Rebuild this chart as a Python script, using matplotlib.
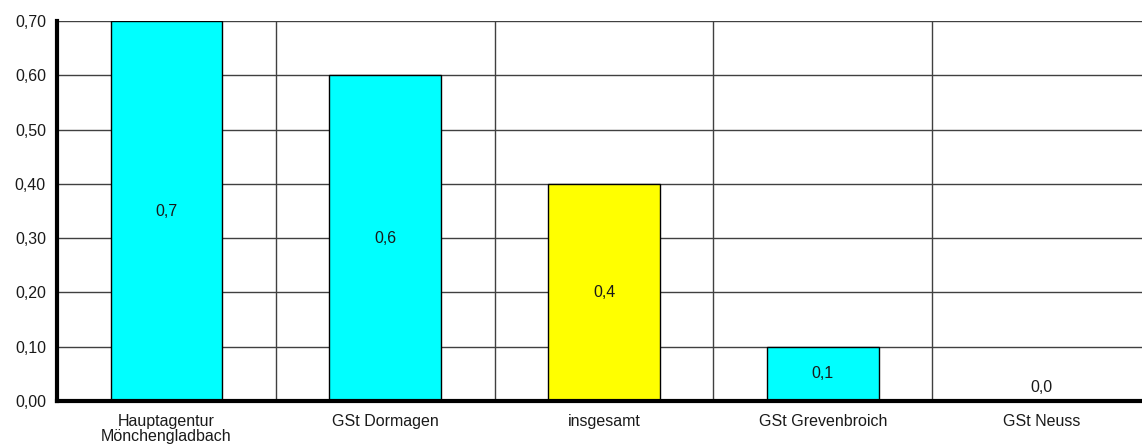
import matplotlib
matplotlib.use("Agg")
import matplotlib.pyplot as plt

categories = ["Hauptagentur\nMönchengladbach", "GSt Dormagen", "insgesamt", "GSt Grevenbroich", "GSt Neuss"]
values = [0.7, 0.6, 0.4, 0.1, 0.0]
colors = ["#00FFFF", "#00FFFF", "#FFFF00", "#00FFFF", "#00FFFF"]
yticks = [0.0, 0.1, 0.2, 0.3, 0.4, 0.5, 0.6, 0.7]
ytick_labels = ["0,00", "0,10", "0,20", "0,30", "0,40", "0,50", "0,60", "0,70"]
value_labels = ["0,7", "0,6", "0,4", "0,1", "0,0"]

plt.rcParams['font.family'] = ['Liberation Sans', 'DejaVu Sans']

fig = plt.figure(figsize=(11.42, 4.48), dpi=100)
ax = fig.add_axes([57/1142, 47/448, (1151-57)/1142, 380/448])

x = list(range(len(categories)))
ax.bar(x, values, width=0.51, color=colors, edgecolor="black", linewidth=1, zorder=3)

ax.set_xlim(-0.5, len(categories) - 0.5)
ax.set_ylim(0, 0.7)
ax.set_yticks(yticks)
ax.set_yticklabels(ytick_labels)
ax.set_xticks(x)
ax.set_xticklabels(categories)
ax.set_xticks([i + 0.5 for i in x[:-1]], minor=True)

ax.grid(axis="y", which="major", color="#404040", linewidth=1, zorder=0)
ax.grid(axis="x", which="minor", color="#404040", linewidth=1, zorder=0)
ax.grid(axis="x", which="major", visible=False)

ax.tick_params(axis="both", which="both", length=0, labelsize=11.5, colors="#1a1a1a")
ax.tick_params(axis="y", pad=8)
ax.tick_params(axis="x", pad=9)
for lbl in ax.get_xticklabels():
    lbl.set_linespacing(1.05)

for s in ["top", "right"]:
    ax.spines[s].set_visible(False)
ax.spines["left"].set_linewidth(3)
ax.spines["bottom"].set_linewidth(3)
ax.spines["left"].set_zorder(5)
ax.spines["bottom"].set_zorder(5)

for xi, v, t in zip(x, values, value_labels):
    ax.text(xi, max(v / 2, 0.024), t, ha="center", va="center", fontsize=11.5, color="#1a1a1a", zorder=4)

fig.savefig("out.png", dpi=100)
